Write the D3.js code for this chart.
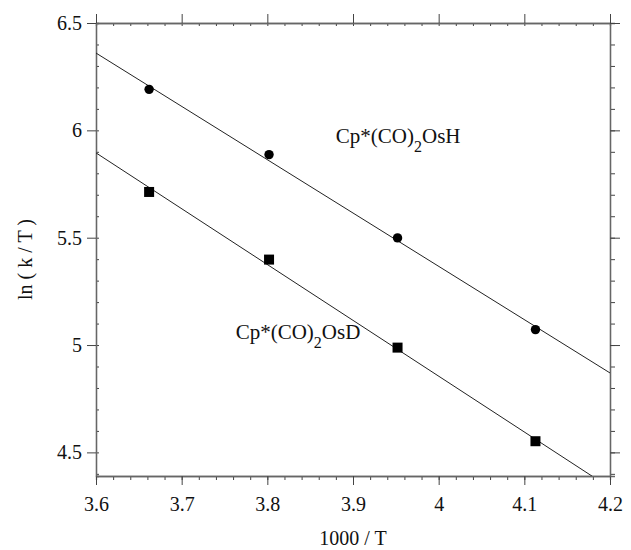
<!DOCTYPE html>
<html>
<head>
<meta charset="utf-8">
<script src="https://cdn.jsdelivr.net/npm/d3@7"></script>
<style>
  body { margin: 0; background: #fff; }
  svg text { font-family: "Liberation Serif", "Times New Roman", serif; fill: #111; }
  .axis path { stroke: #666; stroke-width: 1.3; }
  .axis line { stroke: #444; stroke-width: 1; }
</style>
</head>
<body>
<div id="chart"></div>
<script>
// values
var x_ticks = [3.6, 3.7, 3.8, 3.9, 4.0, 4.1, 4.2];
var y_ticks = [4.5, 5, 5.5, 6, 6.5];

var inv_T = [3.662, 3.802, 3.952, 4.113];
var ln_kT_H = [6.191, 5.887, 5.499, 5.072];
var ln_kT_D = [5.713, 5.398, 4.988, 4.552];

// fitted lines, end points
var fit_H = [[3.6, 6.36], [4.2, 4.87]];
var fit_D = [[3.6, 5.895], [4.2, 4.335]];

var label_H = {x: 3.88, y: 5.94, base: "Cp*(CO)", sub: "2", tail: "OsH"};
var label_D = {x: 3.763, y: 5.03, base: "Cp*(CO)", sub: "2", tail: "OsD"};

var margin = {top: 23, right: 21, bottom: 74, left: 96};
var W = 631, H = 550;
var width = W - margin.left - margin.right,
    height = H - margin.top - margin.bottom;

var svg = d3.select("#chart").append("svg")
  .attr("width", W)
  .attr("height", H);

var g = svg.append("g")
  .attr("transform", "translate(" + margin.left + "," + margin.top + ")");

var x = d3.scaleLinear().domain([3.6, 4.2]).range([0, width]);
var y = d3.scaleLinear().domain([4.39, 6.5]).range([height, 0]);

var x_minor = d3.range(3.6, 4.2001, 0.02);
var y_minor = d3.range(4.4, 6.5001, 0.1);

g.append("defs").append("clipPath").attr("id", "clip")
  .append("rect").attr("width", width).attr("height", height);

// minor ticks
g.append("g").attr("class", "axis")
  .attr("transform", "translate(0," + height + ")")
  .call(d3.axisBottom(x).tickValues(x_minor).tickSize(4).tickFormat(""));
g.append("g").attr("class", "axis")
  .call(d3.axisTop(x).tickValues(x_minor).tickSize(-3).tickFormat(""));
g.append("g").attr("class", "axis")
  .call(d3.axisLeft(y).tickValues(y_minor).tickSize(-3).tickFormat(""));
g.append("g").attr("class", "axis")
  .attr("transform", "translate(" + width + ",0)")
  .call(d3.axisRight(y).tickValues(y_minor).tickSize(5).tickFormat(""));

// major ticks
var fmt = function(d) { return d3.format("")(+d.toFixed(1)); };

g.append("g").attr("class", "axis")
  .attr("transform", "translate(0," + height + ")")
  .call(d3.axisBottom(x).tickValues(x_ticks).tickSize(9).tickSizeOuter(0).tickPadding(12).tickFormat(fmt));
g.append("g").attr("class", "axis")
  .call(d3.axisTop(x).tickValues(x_ticks).tickSize(9).tickSizeOuter(0).tickFormat(""));
g.append("g").attr("class", "axis")
  .call(d3.axisLeft(y).tickValues(y_ticks).tickSize(9).tickSizeOuter(0).tickPadding(5).tickFormat(fmt));
g.append("g").attr("class", "axis")
  .attr("transform", "translate(" + width + ",0)")
  .call(d3.axisRight(y).tickValues(y_ticks).tickSize(10).tickSizeOuter(0).tickFormat(""));

g.selectAll(".axis").attr("font-family", null);
g.selectAll(".axis text")
  .style("font-family", "'Liberation Serif', 'Times New Roman', serif")
  .style("font-size", "20px")
  .attr("fill", "#111");

// fit lines
var line = d3.line().x(function(d) { return x(d[0]); }).y(function(d) { return y(d[1]); });
[fit_H, fit_D].forEach(function(f) {
  g.append("path")
    .datum(f)
    .attr("clip-path", "url(#clip)")
    .attr("d", line)
    .attr("fill", "none")
    .attr("stroke", "#222")
    .attr("stroke-width", 1);
});

// markers
g.selectAll(".dotH")
  .data(inv_T.map(function(t, i) { return [t, ln_kT_H[i]]; }))
  .enter().append("circle")
  .attr("class", "dotH")
  .attr("cx", function(d) { return x(d[0]); })
  .attr("cy", function(d) { return y(d[1]); })
  .attr("r", 4.7)
  .attr("fill", "#000");

g.selectAll(".dotD")
  .data(inv_T.map(function(t, i) { return [t, ln_kT_D[i]]; }))
  .enter().append("rect")
  .attr("class", "dotD")
  .attr("x", function(d) { return x(d[0]) - 5; })
  .attr("y", function(d) { return y(d[1]) - 5; })
  .attr("width", 10)
  .attr("height", 10)
  .attr("fill", "#000");

// series labels
[label_H, label_D].forEach(function(l) {
  var t = g.append("text")
    .attr("x", x(l.x))
    .attr("y", y(l.y))
    .style("font-size", "21px");
  t.append("tspan").text(l.base);
  t.append("tspan").attr("dy", 9).style("font-size", "16px").text(l.sub);
  t.append("tspan").attr("dy", -9).text(l.tail);
});

// axis titles
svg.append("text")
  .attr("x", margin.left + width / 2)
  .attr("y", 545)
  .attr("text-anchor", "middle")
  .style("font-size", "20px")
  .text("1000 / T");

svg.append("text")
  .attr("transform", "translate(32," + (margin.top + height / 2 + 10) + ") rotate(-90)")
  .attr("text-anchor", "middle")
  .style("font-size", "20px")
  .text("ln ( k / T )");
</script>
</body>
</html>
